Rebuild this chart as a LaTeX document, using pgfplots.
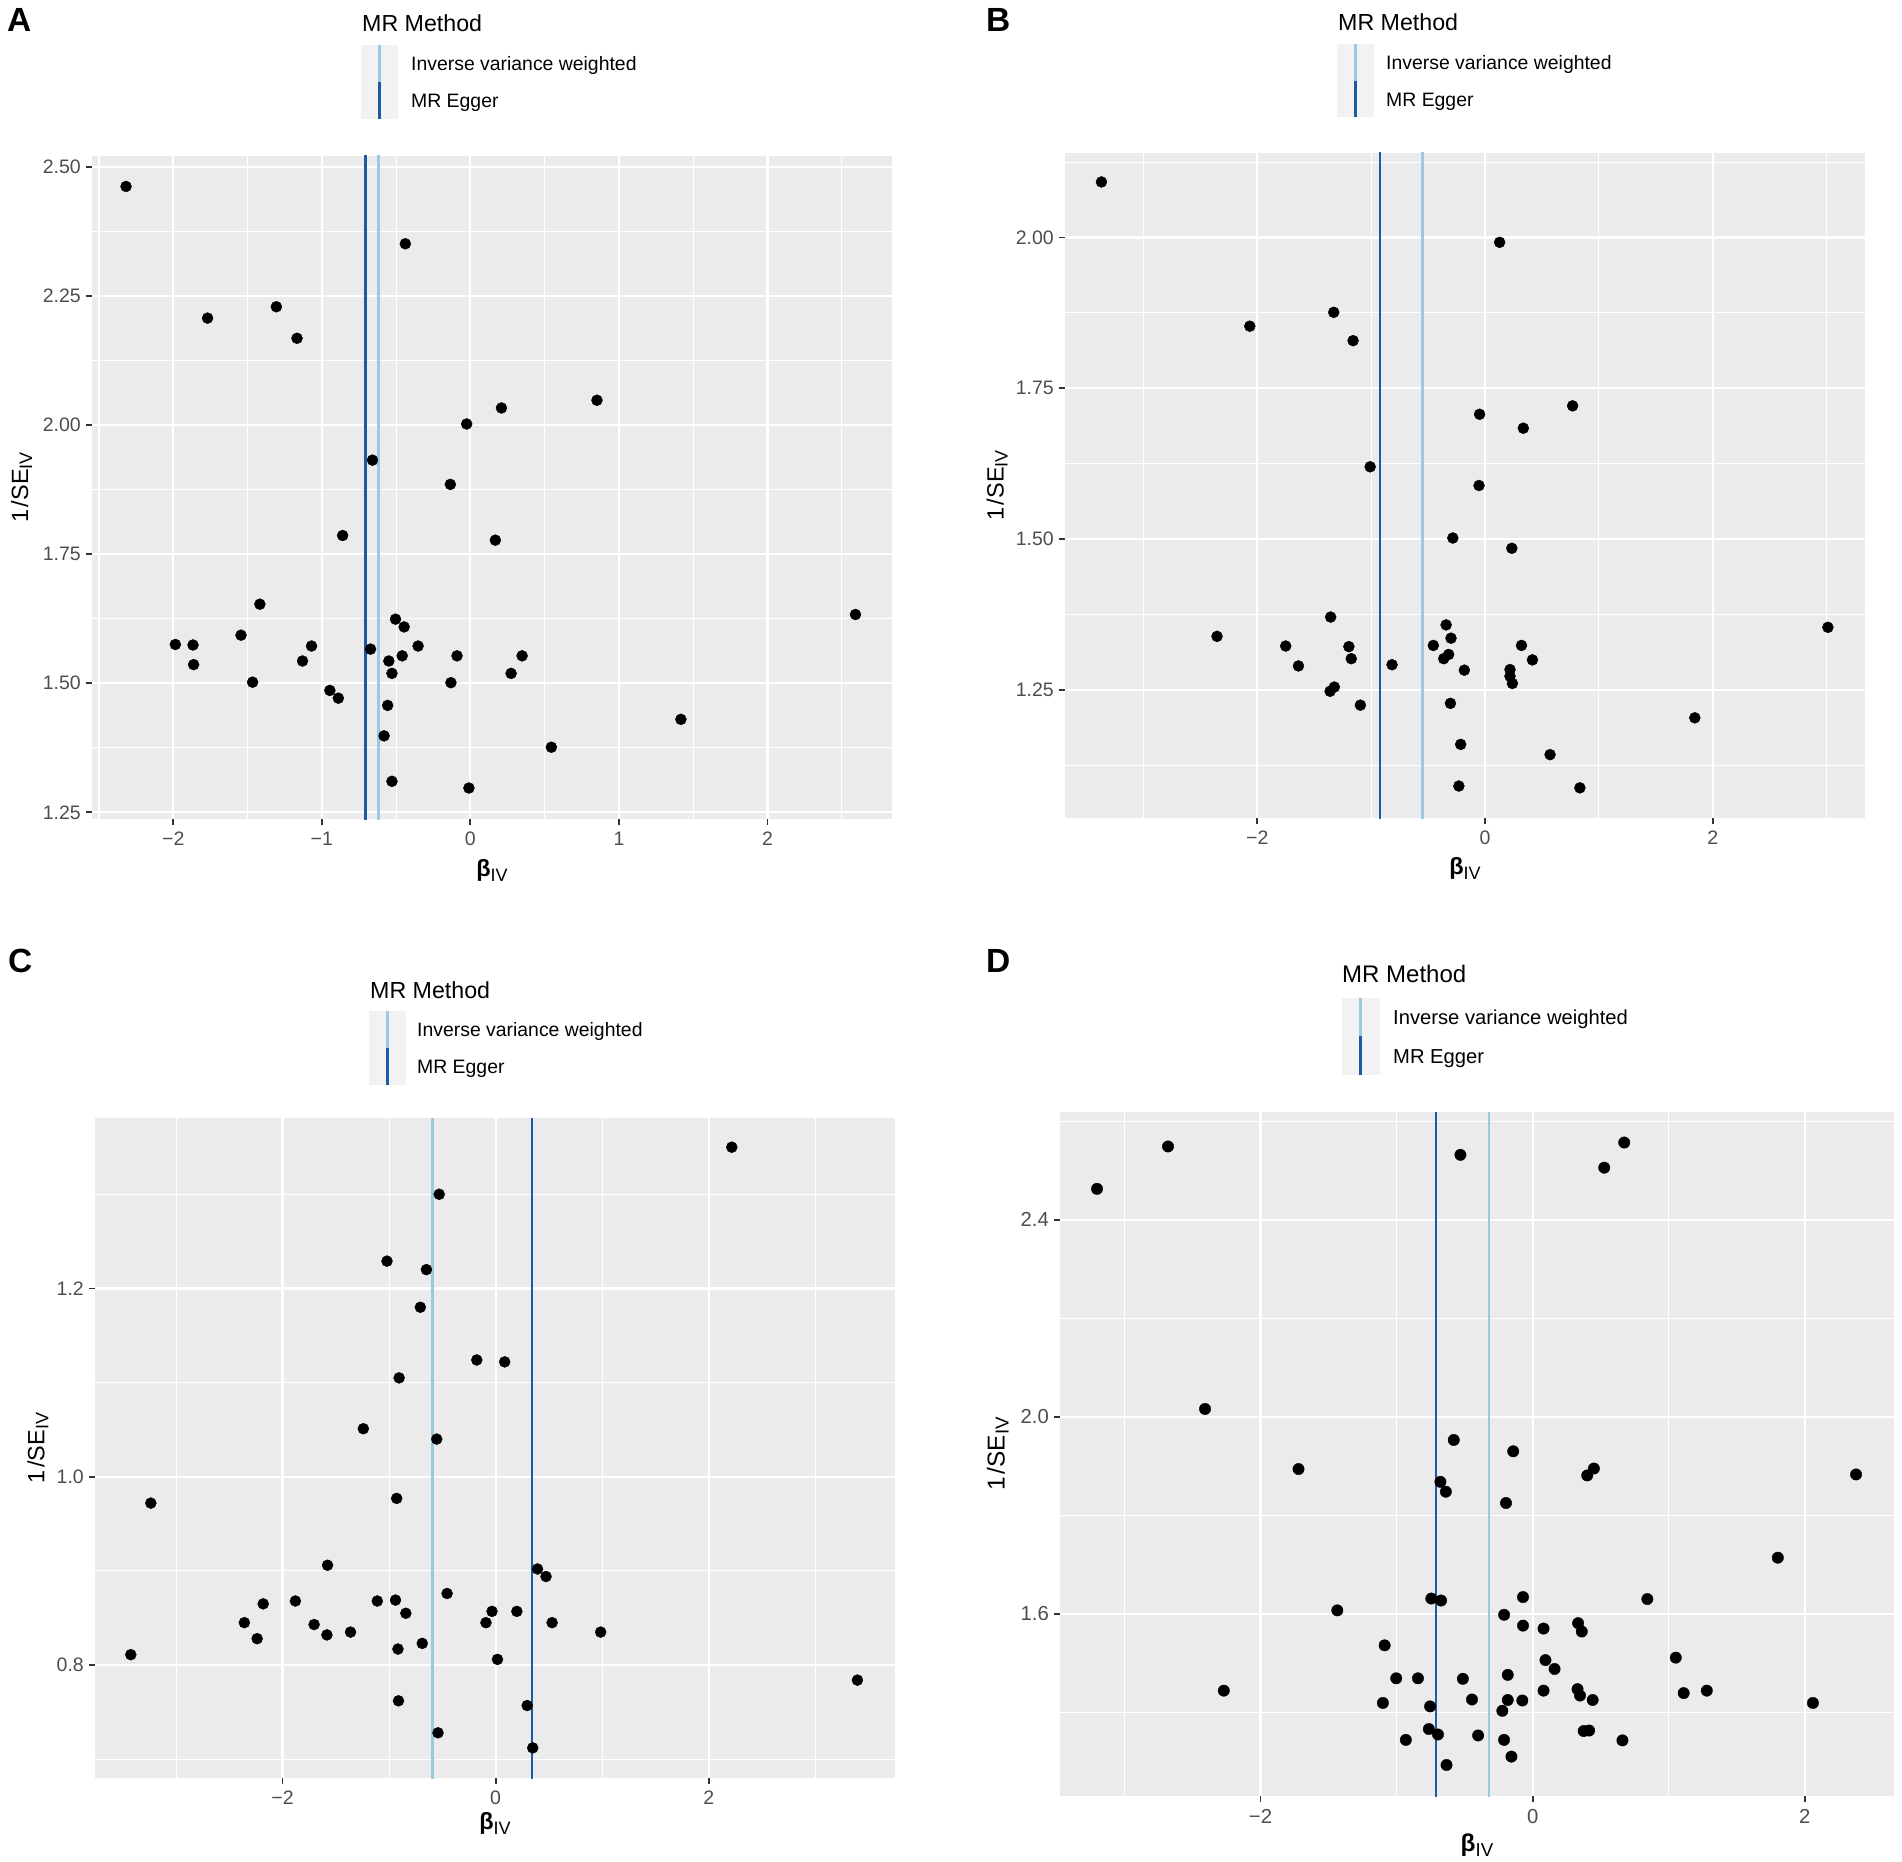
\documentclass[border=0pt]{standalone}
\usepackage{pgfplots}
\pgfplotsset{compat=1.18}
\usepackage{fontspec}
\setmainfont{Liberation Sans}

\definecolor{panelbg}{HTML}{EBEBEB}
\definecolor{keybg}{HTML}{F2F2F2}
\definecolor{ivw}{HTML}{9CC8E2}
\definecolor{egger}{HTML}{1D5AA6}
\definecolor{tickgrey}{HTML}{333333}
\definecolor{ticktext}{HTML}{4D4D4D}

\newcommand\tickfont{\fontsize{19.5pt}{22pt}\selectfont}
\newcommand\tickfontD{\fontsize{20.3pt}{23pt}\selectfont}
\newcommand\titlefont{\fontsize{23.5pt}{27pt}\selectfont}
\newcommand\titlefontD{\fontsize{24.4pt}{28pt}\selectfont}
\newcommand\subfont{\fontsize{18pt}{20pt}\selectfont}
\newcommand\subfontD{\fontsize{18.7pt}{21pt}\selectfont}
\newcommand\tagfont{\fontsize{33.5pt}{38pt}\selectfont\bfseries}
\newcommand\legtitle{\fontsize{23.2pt}{26pt}\selectfont}
\newcommand\legtext{\fontsize{19.4pt}{22pt}\selectfont}
\newcommand\legtitleD{\fontsize{24pt}{27pt}\selectfont}
\newcommand\legtextD{\fontsize{20.2pt}{23pt}\selectfont}

\pgfplotsset{
  ggpanel/.style={
    scale only axis,
    anchor=south west,
    axis background/.style={fill=panelbg},
    axis line style={draw=none},
    grid=both,
    major grid style={draw=white, line width=2.2pt},
    minor grid style={draw=white, line width=1.1pt},
    tick align=outside,
    tick pos=left,
    major tick length=6pt,
    minor tick length=0pt,
    major tick style={draw=tickgrey, line width=1.8pt},
    minor tick style={draw=none},
    ticklabel style={font=\tickfont, text=ticktext},
    xticklabel style={inner sep=0pt, anchor=north, yshift=-7pt},
    yticklabel style={inner sep=0pt, anchor=east, xshift=-5pt},
    xlabel style={at={(axis description cs:0.5,0)}, anchor=base, font=\titlefont},
    ylabel style={anchor=center, font=\titlefont},
    xlabel={\textbf{β}\raisebox{-5pt}{\subfont IV}},
    ylabel={1\hspace{0.12em}/SE\raisebox{-4pt}{\subfont IV}},
  },
  pts/.style={only marks, mark=*, mark size=5.5pt, mark options={draw=none, fill=black}},
  ivwline/.style={ivw, line width=2.3pt},
  eggline/.style={egger, line width=2.3pt},
}

\pgfplotstableread{
x y
-2.318 2.462
-0.438 2.351
-1.769 2.207
-1.306 2.229
-1.167 2.168
0.852 2.048
0.209 2.033
-0.025 2.002
-0.659 1.932
-0.135 1.885
-0.860 1.786
0.168 1.777
-1.417 1.653
2.592 1.633
-0.504 1.624
-0.446 1.609
-1.544 1.593
-1.986 1.575
-1.867 1.574
-1.069 1.572
-0.352 1.572
-0.672 1.566
-1.863 1.536
-1.130 1.543
-0.549 1.543
-0.459 1.553
-0.090 1.553
0.348 1.553
-0.528 1.519
0.274 1.519
-1.466 1.502
-0.131 1.501
-0.946 1.486
-0.889 1.471
-0.557 1.457
1.417 1.430
-0.581 1.398
0.545 1.376
-0.528 1.310
-0.010 1.297
}\dataA

\pgfplotstableread{
x y
-3.369 2.092
0.128 1.992
-1.329 1.876
-2.066 1.853
-1.159 1.829
0.769 1.721
-0.048 1.707
0.336 1.684
-1.009 1.620
-0.053 1.589
-0.283 1.502
0.235 1.485
-1.356 1.371
3.011 1.354
-0.342 1.358
-2.354 1.339
-0.299 1.336
-1.751 1.323
-1.196 1.322
-0.454 1.324
0.320 1.324
-0.320 1.309
-0.363 1.302
-1.175 1.302
0.416 1.300
-1.639 1.290
-0.817 1.292
-0.182 1.283
0.219 1.284
0.219 1.273
0.240 1.261
-1.324 1.255
-1.361 1.248
-1.095 1.225
-0.304 1.228
1.842 1.204
-0.214 1.160
0.571 1.143
-0.230 1.091
0.833 1.088
}\dataB

\pgfplotstableread{
x y
2.217 1.350
-0.530 1.300
-1.020 1.229
-0.650 1.220
-0.707 1.180
-0.177 1.124
0.085 1.122
-0.906 1.105
-1.242 1.051
-0.553 1.040
-0.929 0.977
-3.237 0.972
-1.578 0.906
0.393 0.902
0.473 0.894
-0.456 0.876
-1.880 0.868
-1.111 0.868
-0.940 0.869
-2.182 0.865
-0.843 0.855
-0.034 0.857
0.199 0.857
-2.359 0.845
-1.704 0.843
-0.091 0.845
0.530 0.845
-1.362 0.835
0.986 0.835
-1.584 0.832
-2.239 0.828
-0.689 0.823
-0.917 0.817
-3.425 0.811
0.017 0.806
3.396 0.784
-0.912 0.762
0.296 0.757
-0.541 0.728
0.348 0.712
}\dataC

\pgfplotstableread{
x y
-2.680 2.549
0.673 2.557
-0.531 2.532
0.526 2.506
-3.202 2.463
-2.408 2.016
-0.580 1.953
-0.143 1.930
-1.721 1.894
0.450 1.895
0.401 1.881
2.377 1.883
-0.678 1.868
-0.638 1.848
-0.196 1.825
1.802 1.714
-0.071 1.634
-0.745 1.631
0.843 1.630
-0.673 1.627
-1.436 1.607
-0.210 1.598
0.334 1.581
-0.071 1.576
0.080 1.570
0.361 1.564
-1.088 1.536
1.052 1.511
0.094 1.506
0.161 1.488
-0.183 1.476
-1.003 1.469
-0.843 1.469
-0.513 1.468
-2.270 1.444
0.080 1.444
0.330 1.447
1.280 1.444
1.110 1.439
0.348 1.434
-0.446 1.426
-0.183 1.425
-0.076 1.424
0.441 1.425
-1.101 1.419
2.060 1.419
-0.754 1.412
-0.223 1.403
-0.763 1.366
0.375 1.362
0.415 1.363
-0.696 1.355
-0.401 1.353
-0.932 1.344
-0.210 1.344
0.660 1.343
-0.156 1.310
-0.633 1.293
}\dataD

\begin{document}
\begin{tikzpicture}
\useasboundingbox (0pt,0pt) rectangle (1902pt,-1861pt);

% ---------------- Panel A ----------------
\begin{axis}[ggpanel, at={(92pt,-819pt)}, width=800pt, height=663pt,
  xmin=-2.547, xmax=2.838, ymin=1.237, ymax=2.521,
  xtick={-2,-1,0,1,2}, xticklabels={−2,−1,0,1,2},
  minor xtick={-2.5,-1.5,-0.5,0.5,1.5,2.5},
  ytick={1.25,1.5,1.75,2,2.25,2.5}, yticklabels={1.25,1.50,1.75,2.00,2.25,2.50},
  minor ytick={1.375,1.625,1.875,2.125,2.375},
  xlabel style={yshift=-57pt},
  ylabel style={at={(axis description cs:-0.088,0.5)}}]
  \addplot[pts] table {\dataA};
  \addplot[ivwline] coordinates {(-0.618,0) (-0.618,5)};
  \addplot[eggline] coordinates {(-0.706,0) (-0.706,5)};
\end{axis}

% ---------------- Panel B ----------------
\begin{axis}[ggpanel, at={(1065pt,-818pt)}, width=800pt, height=665pt,
  xmin=-3.689, xmax=3.337, ymin=1.038, ymax=2.140,
  xtick={-2,0,2}, xticklabels={−2,0,2},
  minor xtick={-3,-1,1,3},
  ytick={1.25,1.5,1.75,2}, yticklabels={1.25,1.50,1.75,2.00},
  minor ytick={1.125,1.375,1.625,1.875,2.125},
  xlabel style={yshift=-56pt},
  ylabel style={at={(axis description cs:-0.085,0.5)}}]
  \addplot[pts] table {\dataB};
  \addplot[ivwline] coordinates {(-0.550,0) (-0.550,5)};
  \addplot[eggline] coordinates {(-0.924,0) (-0.924,5)};
\end{axis}

% ---------------- Panel C ----------------
\begin{axis}[ggpanel, at={(95pt,-1778pt)}, width=800pt, height=660pt,
  xmin=-3.761, xmax=3.749, ymin=0.680, ymax=1.381,
  xtick={-2,0,2}, xticklabels={−2,0,2},
  minor xtick={-3,-1,1,3},
  ytick={0.8,1.0,1.2}, yticklabels={0.8,1.0,1.2},
  minor ytick={0.7,0.9,1.1,1.3},
  xlabel style={yshift=-51pt},
  ylabel style={at={(axis description cs:-0.0715,0.5)}}]
  \addplot[pts] table {\dataC};
  \addplot[ivwline] coordinates {(-0.593,0) (-0.593,5)};
  \addplot[eggline] coordinates {(0.342,0) (0.342,5)};
\end{axis}

% ---------------- Panel D ----------------
\begin{axis}[ggpanel, at={(1060pt,-1796pt)}, width=834pt, height=684pt,
  xmin=-3.474, xmax=2.656, ymin=1.230, ymax=2.619,
  ticklabel style={font=\tickfontD},
  xtick={-2,0,2}, xticklabels={−2,0,2},
  minor xtick={-3,-1,1},
  ytick={1.6,2.0,2.4}, yticklabels={1.6,2.0,2.4},
  minor ytick={1.4,1.8,2.2,2.6},
  xlabel style={font=\titlefontD, yshift=-55pt},
  ylabel style={font=\titlefontD, at={(axis description cs:-0.0745,0.5)}},
  xlabel={\textbf{β}\raisebox{-5pt}{\subfontD IV}},
  ylabel={1\hspace{0.12em}/SE\raisebox{-4pt}{\subfontD IV}}]
  \addplot[pts, mark size=5.7pt] table {\dataD};
  \addplot[ivwline] coordinates {(-0.321,0) (-0.321,5)};
  \addplot[eggline] coordinates {(-0.709,0) (-0.709,5)};
\end{axis}

% ---------------- Panel tags ----------------
\node[anchor=base west, inner sep=0pt] at (7pt,-31pt) {\tagfont A};
\node[anchor=base west, inner sep=0pt] at (986pt,-31pt) {\tagfont B};
\node[anchor=base west, inner sep=0pt] at (8pt,-972pt) {\tagfont C};
\node[anchor=base west, inner sep=0pt] at (986pt,-972pt) {\tagfont D};

% ---------------- Legends ----------------
% A
\fill[keybg] (361pt,-45pt) rectangle (398pt,-119pt);
\draw[ivw, line width=2.3pt] (379.5pt,-45pt) -- (379.5pt,-82pt);
\draw[egger, line width=2.3pt] (379.5pt,-82pt) -- (379.5pt,-119pt);
\node[anchor=base west, inner sep=0pt, font=\legtitle] at (362pt,-31pt) {MR Method};
\node[anchor=base west, inner sep=0pt, font=\legtext] at (411pt,-70.5pt) {Inverse variance weighted};
\node[anchor=base west, inner sep=0pt, font=\legtext] at (411pt,-107.5pt) {MR Egger};
% B
\fill[keybg] (1337pt,-44pt) rectangle (1374pt,-117pt);
\draw[ivw, line width=2.3pt] (1355.5pt,-44pt) -- (1355.5pt,-80.5pt);
\draw[egger, line width=2.3pt] (1355.5pt,-80.5pt) -- (1355.5pt,-117pt);
\node[anchor=base west, inner sep=0pt, font=\legtitle] at (1338pt,-30pt) {MR Method};
\node[anchor=base west, inner sep=0pt, font=\legtext] at (1386pt,-69.5pt) {Inverse variance weighted};
\node[anchor=base west, inner sep=0pt, font=\legtext] at (1386pt,-106pt) {MR Egger};
% C
\fill[keybg] (369pt,-1011pt) rectangle (406pt,-1085pt);
\draw[ivw, line width=2.3pt] (387.5pt,-1011pt) -- (387.5pt,-1048pt);
\draw[egger, line width=2.3pt] (387.5pt,-1048pt) -- (387.5pt,-1085pt);
\node[anchor=base west, inner sep=0pt, font=\legtitle] at (370pt,-998pt) {MR Method};
\node[anchor=base west, inner sep=0pt, font=\legtext] at (417pt,-1036.5pt) {Inverse variance weighted};
\node[anchor=base west, inner sep=0pt, font=\legtext] at (417pt,-1073.5pt) {MR Egger};
% D
\fill[keybg] (1341.5pt,-997.5pt) rectangle (1380pt,-1075pt);
\draw[ivw, line width=2.4pt] (1360.5pt,-997.5pt) -- (1360.5pt,-1036pt);
\draw[egger, line width=2.4pt] (1360.5pt,-1036pt) -- (1360.5pt,-1075pt);
\node[anchor=base west, inner sep=0pt, font=\legtitleD] at (1342pt,-982pt) {MR Method};
\node[anchor=base west, inner sep=0pt, font=\legtextD] at (1393pt,-1024pt) {Inverse variance weighted};
\node[anchor=base west, inner sep=0pt, font=\legtextD] at (1393pt,-1063pt) {MR Egger};
\end{tikzpicture}
\end{document}
